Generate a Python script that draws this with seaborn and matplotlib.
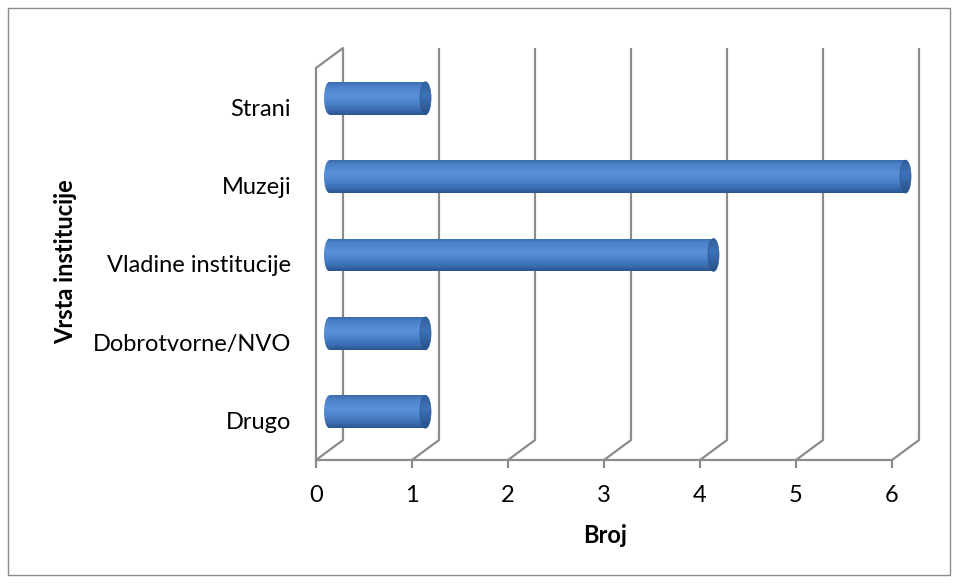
import numpy as np
import pandas as pd
import matplotlib
matplotlib.use("Agg")
import matplotlib.pyplot as plt
import seaborn as sns
from matplotlib.transforms import offset_copy
from matplotlib.patches import Ellipse, Rectangle
from matplotlib.colors import LinearSegmentedColormap

# ---- data ----
categories = ["Strani", "Muzeji", "Vladine institucije", "Dobrotvorne/NVO", "Drugo"]
counts = [1, 6, 4, 1, 1]
x_ticks = [0, 1, 2, 3, 4, 5, 6]
x_label = "Broj"
y_label = "Vrsta institucije"

sns.set_theme(style="white")
plt.rcParams["font.family"] = ["Lato", "DejaVu Sans"]

W, H = 959, 583
fig = plt.figure(figsize=(W / 100, H / 100), dpi=100)
L, R, T, B = 316, 919, 48, 460
ax = fig.add_axes([L / W, 1 - B / H, (R - L) / W, (B - T) / H])

px_x = 96.0    # px per x unit
px_y = 78.4    # px per category
DX, DY = 27, 20
dx, dy = DX / px_x, DY / px_y
n = len(categories)
xmax = max(x_ticks)
FS = 17

df = pd.DataFrame({"Vrsta": categories, "Broj": counts})
sns.barplot(data=df, x="Broj", y="Vrsta", orient="h", width=0.42,
            color="#4F81BD", ax=ax, zorder=3)

grid_c = "#8c8c8c"
lw = 1.6
# back wall gridlines
for k in x_ticks:
    ax.plot([k + dx, k + dx], [n - 0.5 - dy, -0.5 - dy], color=grid_c, lw=lw,
            zorder=1, clip_on=False, solid_capstyle="butt")
    ax.plot([k, k + dx], [n - 0.5, n - 0.5 - dy], color=grid_c, lw=lw,
            zorder=1, clip_on=False)
# left wall front edge and top
ax.plot([0, 0], [n - 0.5, -0.5], color=grid_c, lw=lw, zorder=1, clip_on=False)
ax.plot([0, dx], [-0.5, -0.5 - dy], color=grid_c, lw=lw, zorder=1, clip_on=False)
# floor front edge
ax.plot([0, xmax], [n - 0.5, n - 0.5], color=grid_c, lw=lw, zorder=1, clip_on=False)

# cylinder styling
off = offset_copy(ax.transData, fig=fig, x=DX / 2, y=DY / 2 - 1, units="dots")
body_cmap = LinearSegmentedColormap.from_list(
    "body", [(0.0, "#3a6aab"), (0.12, "#4a80c8"), (0.42, "#5a92da"),
             (0.62, "#4c84cc"), (0.85, "#3a6cb0"), (1.0, "#2a5590")])
cap_cmap = LinearSegmentedColormap.from_list(
    "cap", [(0.0, "#2f5e9c"), (0.4, "#3f73b8"), (1.0, "#27508a")])
grad = np.linspace(0, 1, 200).reshape(-1, 1)
capw = 11 / px_x

bars = list(ax.patches)
for p in bars:
    x0, y0, w, h = p.get_x(), p.get_y(), p.get_width(), p.get_height()
    p.set_transform(off)
    p.set_facecolor("none")
    p.set_edgecolor("none")
    p.set_zorder(4)
    im = ax.imshow(grad, cmap=body_cmap, extent=(x0, x0 + w, y0 + h, y0),
                   transform=off, aspect="auto", zorder=3, interpolation="bilinear")
    im.set_clip_path(p)
    # left rounded end
    le = Ellipse((x0, y0 + h / 2), capw, h, transform=off, facecolor="none",
                 edgecolor="none", zorder=2.9)
    ax.add_patch(le)
    im2 = ax.imshow(grad, cmap=body_cmap,
                    extent=(x0 - capw / 2, x0 + capw / 2, y0 + h, y0),
                    transform=off, aspect="auto", zorder=2.9, interpolation="bilinear")
    im2.set_clip_path(le)
    # right cap
    re = Ellipse((x0 + w, y0 + h / 2), capw, h, transform=off, facecolor="none",
                 edgecolor="#2c5690", lw=0.5, zorder=5.1)
    ax.add_patch(re)
    im3 = ax.imshow(grad, cmap=cap_cmap,
                    extent=(x0 + w - capw / 2, x0 + w + capw / 2, y0 + h, y0),
                    transform=off, aspect="auto", zorder=5, interpolation="bilinear")
    im3.set_clip_path(re)

ax.set_xlim(0, xmax + dx)
ax.set_ylim(n - 0.5, -0.5 - dy)
ax.set_xticks(x_ticks)
ax.set_xticklabels([str(t) for t in x_ticks])
for s in ax.spines.values():
    s.set_visible(False)
ax.tick_params(axis="x", bottom=True, length=6, width=lw, color=grid_c,
               labelsize=FS, pad=12, labelcolor="black")
ax.tick_params(axis="y", left=False, length=0, labelsize=FS, pad=18,
               labelcolor="black")
ax.set_xlabel("")
ax.set_ylabel("")
ax.grid(False)
ax.patch.set_alpha(0)

fig.text(605 / W, 1 - 543 / H, x_label, ha="center", va="baseline",
         fontsize=FS, fontweight="bold", color="black")
fig.text(66 / W, 1 - 262 / H, y_label, ha="center", va="center",
         fontsize=FS, fontweight="bold", rotation=90, color="black")

fig.add_artist(Rectangle((8 / W, 8 / H), (950 - 8) / W, (575 - 8) / H,
                         transform=fig.transFigure, fill=False,
                         edgecolor="#8c8c8c", lw=1))

fig.savefig("out.png", dpi=100)
